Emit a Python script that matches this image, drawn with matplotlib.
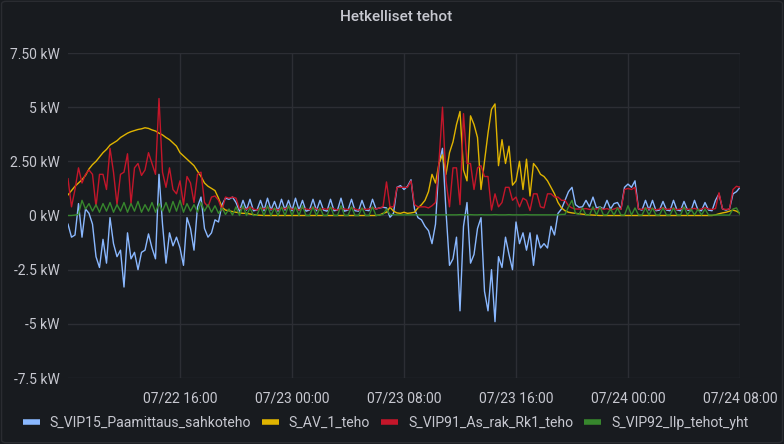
import numpy as np
import matplotlib
matplotlib.use('Agg')
import matplotlib.pyplot as plt
import matplotlib.dates as mdates
from matplotlib.patches import FancyBboxPatch
from matplotlib.lines import Line2D

# 15 min samples, 07/22 08:00 -> 07/24 08:00
times = np.arange(np.datetime64('2021-07-22T08:00'), np.datetime64('2021-07-24T08:01'),
                  np.timedelta64(15, 'm'))

# S_VIP15_Paamittaus_sahkoteho (kW)
vip15 = [
    -0.4, -1.0, -0.9, 0.55, -1.0, 0.3, 0.1, -0.4,
    -1.9, -2.4, -1.1, -2.2, -0.1, -1.3, -1.9, -1.6,
    -3.3, -0.8, -2.0, -1.7, -2.5, -1.7, -1.6, -0.85,
    -1.5, -2.0, 1.9, -0.4, -2.2, -0.8, -1.4, -1.0,
    -1.5, -2.3, -0.1, -0.6, -1.6, 0.4, 0.85, -0.6,
    -1.0, -0.8, -0.2, -0.3, 0.5, 0.8, 0.75, 0.85,
    0.6, 0.2, 0.7, 0.25, 0.75, 0.22, 0.25, 0.7,
    0.22, 0.8, 0.25, 0.65, 0.2, 0.75, 0.25, 0.7,
    0.22, 0.8, 0.25, 0.7, 0.2, 0.25, 0.75, 0.22,
    0.7, 0.25, 0.2, 0.75, 0.22, 0.25, 0.8, 0.2,
    0.25, 0.75, 0.22, 0.2, 0.7, 0.25, 0.22, 0.75,
    0.3, 0.35, 0.38, 0.35, -0.08, 0.1, 1.3, 1.38,
    1.2, 1.35, 1.65, 0.3, -0.1, -0.2, -0.5, -0.7,
    -1.3, -0.4, 2.4, 3.1, 0.2, -2.3, -2.0, -1.0,
    -4.4, -0.5, 0.6, -2.2, -1.8, -0.6, -0.1, -3.5,
    -4.4, -2.5, -4.9, -1.9, -2.4, -1.0, -1.8, -2.5,
    -0.3, -1.3, -0.8, -1.6, -0.8, -2.3, -0.9, -1.5,
    -1.3, -1.5, -0.5, -0.9, 0.1, 0.3, 0.7, 1.1,
    1.3, 0.5, 0.38, 0.4, 0.7, 0.4, 0.85, 0.35,
    0.4, 0.3, 0.7, 0.3, 0.55, 0.6, 0.3, 1.3,
    1.45, 1.3, 1.6, 0.3, 0.25, 0.7, 0.25, 0.7,
    0.22, 0.25, 0.65, 0.25, 0.22, 0.7, 0.25, 0.22,
    0.65, 0.25, 0.22, 0.7, 0.25, 0.22, 0.6, 0.25,
    0.22, 0.7, 1.0, 0.3, 0.25, 0.3, 1.0, 1.1,
    1.3,
]

# S_AV_1_teho (kW)
av1 = [
    0.95, 1.15, 1.35, 1.5, 1.65, 1.85, 2.15, 2.35,
    2.5, 2.7, 2.9, 3.05, 3.25, 3.35, 3.45, 3.6,
    3.7, 3.8, 3.87, 3.92, 3.97, 4.0, 4.05, 4.02,
    3.95, 3.9, 3.8, 3.72, 3.6, 3.5, 3.35, 3.2,
    2.9, 2.75, 2.6, 2.45, 2.3, 2.05, 1.8, 1.5,
    1.35, 1.25, 1.15, 0.8, 0.38, 0.25, 0.22, 0.18,
    0.15, 0.12, 0.1, 0.1, 0.07, 0.04, 0.02, 0.01,
    0, 0, 0, 0, 0, 0, 0, 0,
    0, 0, 0, 0, 0, 0, 0, 0,
    0, 0, 0, 0, 0, 0, 0, 0,
    0, 0, 0, 0, 0, 0, 0, 0,
    0.0, 0.02, 0.1, 0.15, 0.38, 0.2, 0.12, 0.1,
    0.15, 0.1, 0.12, 0.15, 0.35, 0.5, 0.7, 1.1,
    1.9, 1.5, 2.4, 2.8, 1.9, 2.9, 3.4, 4.2,
    4.8, 2.1, 1.6, 4.6, 4.2, 3.6, 1.2, 2.5,
    3.8, 4.9, 5.15, 2.3, 3.5, 2.4, 3.2, 1.4,
    1.6, 2.5, 1.2, 2.6, 0.9, 2.4, 2.2, 1.9,
    1.8, 1.6, 1.3, 1.0, 0.6, 0.35, 0.22, 0.15,
    0.12, 0.1, 0.08, 0.06, 0.04, 0.03, 0.02, 0.01,
    0, 0, 0, 0, 0, 0, 0, 0,
    0, 0, 0, 0, 0, 0, 0, 0,
    0, 0, 0, 0, 0, 0, 0, 0,
    0, 0, 0, 0, 0, 0, 0, 0,
    0.0, 0.03, 0.08, 0.12, 0.15, 0.2, 0.25, 0.2,
    0.1,
]

# S_VIP91_As_rak_Rk1_teho (kW)
vip91 = [
    1.7, 0.4, 1.2, 2.2, 1.5, 1.9, 2.1, 1.9,
    0.4, 1.9, 1.9, 1.2, 3.1, 2.0, 0.5, 1.9,
    2.0, 2.85, 0.55, 2.2, 2.4, 1.85, 2.1, 2.9,
    2.4, 1.9, 5.4, 2.0, 1.3, 2.2, 1.2, 1.0,
    1.6, 0.5, 1.8, 1.5, 0.6, 1.9, 2.0, 0.6,
    0.4, 0.85, 0.9, 0.7, 0.25, 0.85, 0.8, 0.85,
    0.8, 0.3, 0.35, 0.28, 0.4, 0.3, 0.25, 0.35,
    0.3, 0.38, 0.28, 0.32, 0.25, 0.35, 0.3, 0.4,
    0.28, 0.33, 0.25, 0.35, 0.3, 0.27, 0.38, 0.3,
    0.25, 0.32, 0.28, 0.36, 0.3, 0.25, 0.33, 0.3,
    0.27, 0.35, 0.3, 0.25, 0.32, 0.28, 0.3, 0.36,
    0.3, 0.35, 0.4, 1.55, 0.4, 0.4, 1.3, 1.3,
    1.3, 1.3, 1.6, 0.5, 0.4, 0.4, 0.4, 0.35,
    0.45, 0.6, 2.5, 5.0, 1.6, 0.4, 2.2, 2.2,
    0.5, 4.7, 2.4, 2.4, 1.2, 2.2, 2.3, 1.8,
    1.8, 0.25, 1.0, 0.4, 0.6, 1.3, 1.3, 0.7,
    0.85, 0.4, 0.8, 0.7, 0.23, 1.0, 1.0, 0.4,
    0.35, 1.0, 1.0, 0.85, 0.85, 0.7, 0.7, 0.45,
    0.35, 0.3, 0.3, 0.3, 0.32, 0.28, 0.3, 0.3,
    0.35, 0.28, 0.32, 0.25, 0.3, 0.36, 0.28, 1.2,
    1.25, 1.2, 1.3, 0.3, 0.28, 0.35, 0.3, 0.33,
    0.26, 0.3, 0.36, 0.28, 0.3, 0.34, 0.27, 0.3,
    0.35, 0.28, 0.3, 0.33, 0.27, 0.3, 0.36, 0.3,
    0.28, 0.32, 1.05, 0.3, 0.28, 0.3, 1.2, 1.35,
    1.3,
]

# S_VIP92_llp_tehot_yht (kW)
vip92 = [
    0.0, 0.0, 0.02, 0.05, 0.7, 0.3, 0.55, 0.2,
    0.5, 0.15, 0.55, 0.2, 0.6, 0.15, 0.5, 0.2,
    0.6, 0.15, 0.55, 0.2, 0.65, 0.15, 0.5, 0.2,
    0.6, 0.15, 0.55, 0.2, 0.6, 0.15, 0.65, 0.2,
    0.7, 0.15, 0.55, 0.2, 0.5, 0.15, 0.6, 0.2,
    0.5, 0.15, 0.45, 0.1, 0.35, 0.05, 0.3, 0.02,
    0.4, 0.0, 0.45, 0.0, 0.35, 0.0, 0.02, 0.4,
    0.0, 0.45, 0.0, 0.35, 0.0, 0.4, 0.0, 0.45,
    0.0, 0.4, 0.0, 0.45, 0.0, 0.0, 0.4, 0.0,
    0.35, 0.0, 0.0, 0.4, 0.0, 0.0, 0.45, 0.0,
    0.0, 0.4, 0.0, 0.0, 0.35, 0.0, 0.0, 0.4,
    0.0, 0.02, 0.05, 0.3, 0.05, 0.04, 0.03, 0.03,
    0.03, 0.03, 0.03, 0.03, 0.03, 0.03, 0.03, 0.03,
    0.03, 0.03, 0.03, 0.03, 0.03, 0.03, 0.03, 0.03,
    0.04, 0.03, 0.03, 0.04, 0.03, 0.03, 0.04, 0.03,
    0.03, 0.03, 0.04, 0.03, 0.03, 0.03, 0.04, 0.03,
    0.03, 0.03, 0.03, 0.04, 0.03, 0.03, 0.03, 0.03,
    0.03, 0.03, 0.03, 0.03, 0.03, 0.05, 0.05, 0.4,
    0.7, 0.1, 0.05, 0.35, 0.02, 0.03, 0.4, 0.02,
    0.4, 0.02, 0.03, 0.3, 0.02, 0.35, 0.02, 0.02,
    0.45, 0.02, 0.35, 0.02, 0.02, 0.35, 0.02, 0.35,
    0.02, 0.02, 0.35, 0.02, 0.02, 0.35, 0.02, 0.02,
    0.4, 0.02, 0.3, 0.02, 0.3, 0.02, 0.3, 0.02,
    0.02, 0.02, 0.02, 0.02, 0.02, 0.02, 0.3, 0.35,
    0.05,
]

series_names = ['S_VIP15_Paamittaus_sahkoteho', 'S_AV_1_teho',
                'S_VIP91_As_rak_Rk1_teho', 'S_VIP92_llp_tehot_yht']
series_colors = ['#8ab8ff', '#e0b400', '#c4162a', '#37872d']

y_ticks = [7.5, 5, 2.5, 0, -2.5, -5, -7.5]
y_labels = ['7.50 kW', '5 kW', '2.50 kW', '0 kW', '-2.5 kW', '-5 kW', '-7.5 kW']
x_ticks = ['2021-07-22T16:00', '2021-07-23T00:00', '2021-07-23T08:00',
           '2021-07-23T16:00', '2021-07-24T00:00', '2021-07-24T08:00']

bg = '#181b1f'
txt = '#c7c8d0'
grid = '#2c2e34'

plt.rcParams['font.family'] = ['Roboto', 'DejaVu Sans']

fig = plt.figure(figsize=(7.84, 4.44), dpi=100, facecolor=bg)
ax = fig.add_axes([68/784, 1 - 378/444, 672/784, 325/444])
ax.set_facecolor(bg)

for vals, c in zip([vip15, av1, vip91, vip92], series_colors):
    ax.plot(times, vals, color=c, lw=1.0, solid_joinstyle='round')

ax.set_xlim(times[0], times[-1])
ax.set_ylim(-7.5, 7.5)
ax.set_yticks(y_ticks)
ax.set_yticklabels(y_labels)
ax.set_xticks([np.datetime64(t) for t in x_ticks])
ax.xaxis.set_major_formatter(mdates.DateFormatter('%m/%d %H:%M'))

ax.tick_params(axis='both', length=0, colors=txt, labelsize=10)
ax.tick_params(axis='y', pad=6)
ax.tick_params(axis='x', pad=10)
ax.grid(True, color=grid, lw=1.0)
ax.set_axisbelow(True)
for s in ax.spines.values():
    s.set_visible(False)

fig.text(0.505, 1 - 17/444, 'Hetkelliset tehot', ha='center', va='center',
         color=txt, fontsize=11, fontweight='medium')

handles = [Line2D([], [], color=c, lw=4, solid_capstyle='butt') for c in series_colors]
leg = fig.legend(handles, series_names, loc='center left', ncol=4,
                 bbox_to_anchor=(0.029, 1 - 423/444), frameon=False,
                 handlelength=1.2, handletextpad=0.7, columnspacing=0.8,
                 fontsize=10.1, labelcolor=txt, borderaxespad=0, borderpad=0)

fig.patches.append(FancyBboxPatch((0.002, 0.003), 0.996, 0.994,
                                  boxstyle='round,pad=0,rounding_size=0.006',
                                  transform=fig.transFigure, fc='none',
                                  ec='#2a2c31', lw=1.0))

fig.savefig('out.png', dpi=100, facecolor=bg)
